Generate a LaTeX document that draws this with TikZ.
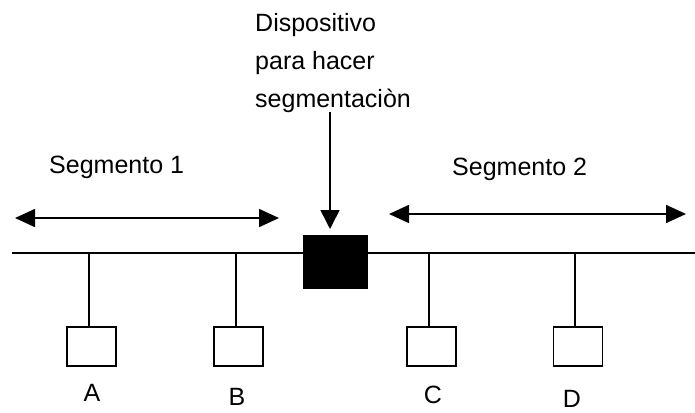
\documentclass[tikz,border=0pt]{standalone}
\usepackage{fontspec}
\setmainfont{Liberation Sans}
\usetikzlibrary{arrows.meta}
\begin{document}
\begin{tikzpicture}[x=1pt,y=-1pt,
  wire/.style={line width=1.6pt},
  dbl/.style={line width=1.6pt,{Triangle[length=20pt,width=18pt]}-{Triangle[length=20pt,width=18pt]}},
  station/.style={draw,line width=1.6pt,minimum width=49pt,minimum height=39pt,inner sep=0pt},
  lbl/.style={font=\fontsize{25}{38}\selectfont,inner sep=0pt}]
\useasboundingbox (0,0) rectangle (695,412);

% shared bus
\coordinate (busL) at (12,253);
\coordinate (busR) at (695,253);
\draw[wire] (busL) -- (busR);

% segmenting device
\node[fill=black,minimum width=65pt,minimum height=54pt,inner sep=0pt] (dev) at (335.5,262) {};
\node[lbl,anchor=north west,align=left] (devtxt) at (255,13)
  {Dispositivo\\para hacer\\segmentaciòn};
\coordinate (devarrow) at (330,112);
\draw[wire,-{Triangle[length=19pt,width=19pt]}] (devarrow) -- (devarrow |- 0,229);

% segment extents
\node[lbl,anchor=base west] (seg1) at (49,173) {Segmento 1};
\node[lbl,anchor=base west] (seg2) at (452,175) {Segmento 2};
\coordinate (s1L) at (15,218);
\coordinate (s1R) at (279,218);
\coordinate (s2L) at (389,214);
\coordinate (s2R) at (686,214);
\draw[dbl] (s1L) -- (s1R);
\draw[dbl] (s2L) -- (s2R);

% stations
\node[station] (sA) at (91.5,346.5) {};
\node[station] (sB) at (238.5,346.5) {};
\node[station] (sC) at (431.5,346.5) {};
\node[station] (sD) at (578,346.5) {};
\foreach \s/\x in {sA/89,sB/236,sC/429,sD/575}
  \draw[wire] (\x,253) -- (\x,327);

\node[lbl] (lA) at (92,393) {A};
\node[lbl] (lB) at (237,397) {B};
\node[lbl] (lC) at (433,395) {C};
\node[lbl] (lD) at (572,399) {D};
\end{tikzpicture}
\end{document}
